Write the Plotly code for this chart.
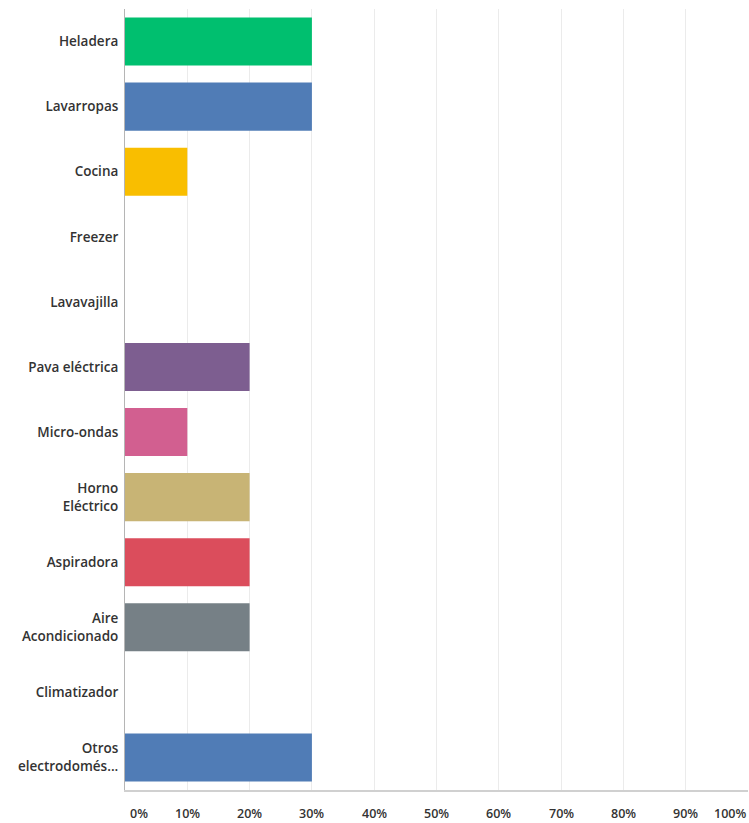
import plotly.graph_objects as go

# Appliance categories and the share of respondents for each
categories = [
    "Heladera", "Lavarropas", "Cocina", "Freezer", "Lavavajilla",
    "Pava eléctrica", "Micro-ondas", "Horno<br>Eléctrico", "Aspiradora",
    "Aire<br>Acondicionado", "Climatizador", "Otros<br>electrodomés...",
]
percent = [30, 30, 10, 0, 0, 20, 10, 20, 20, 20, 0, 30]
bar_colors = [
    "#00BF6F", "#507CB6", "#F9BE00", "#6BC8CD", "#FF8B4F", "#7D5E90",
    "#D25F90", "#C8B475", "#DB4D5C", "#768086", "#BF5A5F", "#507CB6",
]
tick_values = list(range(0, 101, 10))
tick_labels = [f"{v}%" for v in tick_values]

fig = go.Figure(
    go.Bar(
        x=percent,
        y=categories,
        orientation="h",
        marker=dict(color=bar_colors, line=dict(width=0)),
        width=0.74,
        hoverinfo="x+y",
    )
)

fig.update_layout(
    width=749,
    height=823,
    margin=dict(l=125, r=1, t=9, b=33),
    plot_bgcolor="white",
    paper_bgcolor="white",
    showlegend=False,
    font=dict(family="Open Sans, Arial, sans-serif", size=12, color="#333333"),
)

fig.update_xaxes(
    range=[0, 100],
    tickvals=tick_values,
    showticklabels=False,
    showgrid=True,
    gridcolor="#ebebeb",
    gridwidth=1,
    showline=True,
    linecolor="#d0d0d0",
    linewidth=2,
    zeroline=False,
    fixedrange=True,
)

fig.update_yaxes(
    autorange="reversed",
    showline=True,
    linecolor="#b5b5b5",
    linewidth=1,
    ticks="",
    ticklabelstandoff=3,
    tickfont=dict(size=13.5, color="#333333", weight=600),
    fixedrange=True,
)

# Percentage labels under the axis; the end labels are kept inside the page
for v, label in zip(tick_values, tick_labels):
    if v == 0:
        anchor, shift = "left", 3
    elif v == 100:
        anchor, shift = "right", 0
    else:
        anchor, shift = "center", 0
    fig.add_annotation(
        x=v, y=0, xref="x", yref="paper",
        text=label, showarrow=False,
        xanchor=anchor, yanchor="top",
        xshift=shift, yshift=-13,
        font=dict(size=12.5, color="#333333", weight=600),
    )

fig.write_html("out.html")
